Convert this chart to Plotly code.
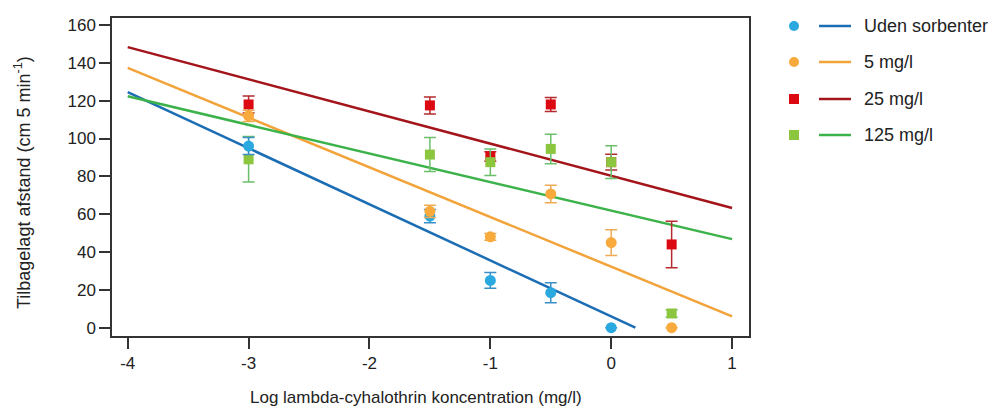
import plotly.graph_objects as go

# Measured points: log concentration vs. distance travelled, with standard errors
conc_x = [-3, -1.5, -1, -0.5, 0, 0.5]

uden_x = [-3, -1.5, -1, -0.5, 0]
uden_y = [96, 59, 25, 18.5, 0]
uden_err = [4.5, 3.5, 4.2, 5.3, 0]

mg5_y = [112, 61.5, 48, 70.7, 45, 0]
mg5_err = [3, 3.2, 1.8, 4.6, 6.8, 0]

mg25_y = [118, 117.5, 90.5, 118, 87.5, 44]
mg25_err = [4.5, 4.5, 2.5, 3.7, 4.2, 12.3]

mg125_y = [89, 91.5, 87.5, 94.5, 87.5, 7.5]
mg125_err = [12, 9, 7, 7.8, 8.7, 2]

# Fitted regression lines (end points)
fit_uden_x, fit_uden_y = [-4, 0.2], [124.5, 0]
fit_5_x, fit_5_y = [-4, 1], [137.3, 6]
fit_25_x, fit_25_y = [-4, 1], [148.3, 63.3]
fit_125_x, fit_125_y = [-4, 1], [122.3, 46.8]

legend_labels = ["Uden sorbenter", "5 mg/l", "25 mg/l", "125 mg/l"]

C_BLUE_PT, C_BLUE_LN, C_BLUE_EB = "#2aa9e0", "#1b6db4", "#3a8fc8"
C_OR_PT, C_OR_LN, C_OR_EB = "#f8aa3c", "#f2a33a", "#eeab55"
C_RED_PT, C_RED_LN, C_RED_EB = "#dc0912", "#a3151b", "#b52a2f"
C_GR_PT, C_GR_LN, C_GR_EB = "#8cc63f", "#3cb34a", "#6cbf6a"

FONT = "Liberation Sans, Arial, Helvetica, sans-serif"

fig = go.Figure()

# regression lines
for fx, fy, col in [(fit_uden_x, fit_uden_y, C_BLUE_LN), (fit_5_x, fit_5_y, C_OR_LN),
                    (fit_25_x, fit_25_y, C_RED_LN), (fit_125_x, fit_125_y, C_GR_LN)]:
    fig.add_trace(go.Scatter(x=fx, y=fy, mode="lines", line=dict(color=col, width=2.5),
                             showlegend=False, hoverinfo="skip"))


def points(x, y, err, col, ecol, symbol):
    return go.Scatter(
        x=x, y=y, mode="markers",
        marker=dict(color=col, size=11 if symbol == "circle" else 10, symbol=symbol,
                    line=dict(width=0)),
        error_y=dict(type="data", array=err, visible=True, color=ecol,
                     thickness=1.5, width=6),
        showlegend=False,
    )


fig.add_trace(points(conc_x, mg25_y, mg25_err, C_RED_PT, C_RED_EB, "square"))
fig.add_trace(points(conc_x, mg125_y, mg125_err, C_GR_PT, C_GR_EB, "square"))
fig.add_trace(points(uden_x, uden_y, uden_err, C_BLUE_PT, C_BLUE_EB, "circle"))
fig.add_trace(points(conc_x, mg5_y, mg5_err, C_OR_PT, C_OR_EB, "circle"))

# Hand-built legend: marker, short line, label
PL, PR, PT, PB = 112, 749, 18, 336
W, H = PR - PL, PB - PT


def px_x(p):
    return (p - PL) / W


def px_y(p):
    return (PB - p) / H


shapes = []
annotations = []
rows = [26, 62, 99, 135]
leg = [(C_BLUE_PT, C_BLUE_LN, "circle"), (C_OR_PT, C_OR_LN, "circle"),
       (C_RED_PT, C_RED_LN, "square"), (C_GR_PT, C_GR_LN, "square")]
for (pc, lc, sym), label, ry in zip(leg, legend_labels, rows):
    r = 5
    kind = "circle" if sym == "circle" else "rect"
    shapes.append(dict(type=kind, xref="paper", yref="paper",
                       x0=px_x(794 - r), x1=px_x(794 + r), y0=px_y(ry + r), y1=px_y(ry - r),
                       fillcolor=pc, line=dict(width=0)))
    shapes.append(dict(type="line", xref="paper", yref="paper",
                       x0=px_x(819), x1=px_x(851), y0=px_y(ry), y1=px_y(ry),
                       line=dict(color=lc, width=2.5)))
    annotations.append(dict(text=label, xref="paper", yref="paper", x=px_x(862), y=px_y(ry),
                            xanchor="left", yanchor="middle", showarrow=False,
                            font=dict(size=18, color="#222", family=FONT)))

# axis titles
annotations.append(dict(text="Log lambda-cyhalothrin koncentration (mg/l)",
                        xref="paper", yref="paper", x=px_x(416), y=px_y(397),
                        xanchor="center", yanchor="middle", showarrow=False,
                        font=dict(size=17, color="#222", family=FONT)))
annotations.append(dict(text="Tilbagelagt afstand (cm 5 min<sup>-1</sup>)",
                        xref="paper", yref="paper", x=px_x(22), y=px_y(183),
                        xanchor="center", yanchor="middle", showarrow=False, textangle=-90,
                        font=dict(size=18, color="#222", family=FONT)))

fig.update_layout(
    width=991, height=407,
    margin=dict(l=PL, r=991 - PR, t=PT, b=407 - PB),
    paper_bgcolor="white", plot_bgcolor="white",
    font=dict(family=FONT, size=17, color="#222"),
    shapes=shapes, annotations=annotations,
    xaxis=dict(range=[-4.13, 1.14], tickvals=[-4, -3, -2, -1, 0, 1],
               ticktext=["-4", "-3", "-2", "-1", "0", "1"],
               showgrid=False, zeroline=False, showline=True, mirror=True,
               linecolor="#333", linewidth=1.5, ticks="outside", ticklen=11,
               tickcolor="#333", tickwidth=1.5, tickfont=dict(size=17)),
    yaxis=dict(range=[-4.4, 163.7], tickvals=[0, 20, 40, 60, 80, 100, 120, 140, 160],
               showgrid=False, zeroline=False, showline=True, mirror=True,
               linecolor="#333", linewidth=1.5, ticks="outside", ticklen=11,
               tickcolor="#333", tickwidth=1.5, tickfont=dict(size=17)),
)

fig.write_html("out.html")
